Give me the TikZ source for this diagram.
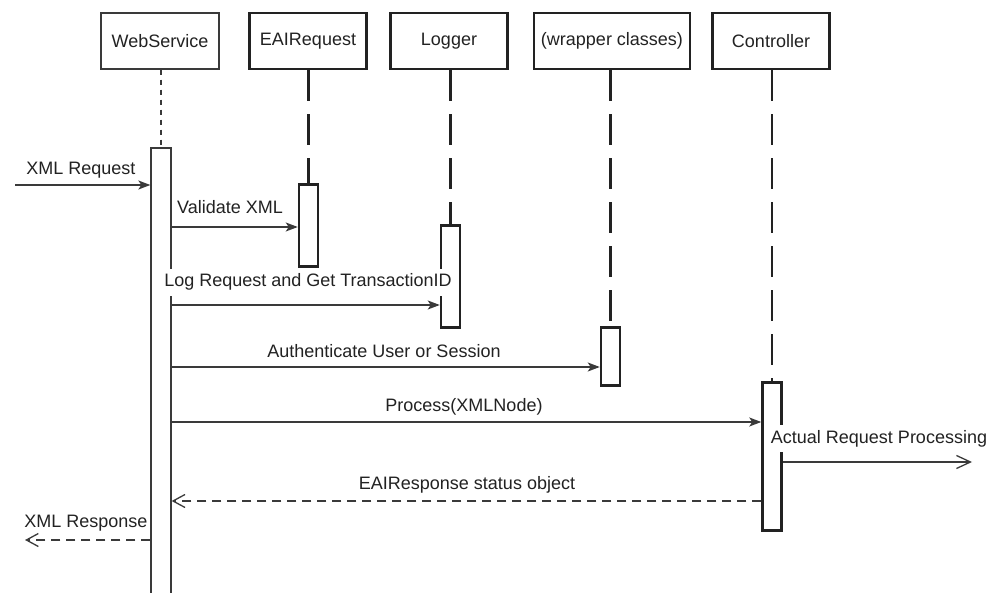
\documentclass[tikz,border=0pt]{standalone}
\usepackage{fontspec}
\setmainfont{Liberation Sans}
\usetikzlibrary{arrows.meta}
\definecolor{ink}{HTML}{222222}
\definecolor{thin}{HTML}{3A3A3A}
\begin{document}
\begin{tikzpicture}[x=1pt,y=-1pt,
  every node/.style={font=\fontsize{18}{21}\selectfont, text=ink},
  headthin/.style={draw=thin, line width=1.3pt, fill=white, minimum height=56pt, inner sep=0pt},
  headthick/.style={draw=ink, line width=2.5pt, fill=white, minimum height=56pt, inner sep=0pt},
  actthin/.style={draw=thin, line width=1.3pt, fill=white, minimum width=20pt, inner sep=0pt},
  actthick/.style={draw=ink, line width=2.5pt, fill=white, minimum width=19pt, inner sep=0pt},
  lifethin/.style={draw=thin, line width=1.2pt, dash pattern=on 5pt off 5pt},
  lifethick/.style={draw=ink, line width=2.5pt, dash pattern=on 31pt off 13pt},
  msg/.style={draw=thin, line width=1.3pt, -{Stealth[length=12pt,width=9pt,inset=3pt]}},
  ret/.style={draw=thin, line width=1.3pt, dash pattern=on 9pt off 6pt, -{Straight Barb[length=12pt,width=13pt]}},
  async/.style={draw=thin, line width=1.3pt, -{Straight Barb[length=14pt,width=13pt]}},
  lbl/.style={anchor=base, inner xsep=1pt, inner ysep=5pt, fill=white}
]
\useasboundingbox (0,0) rectangle (988,593);
\clip (0,0) rectangle (988,593);

% heads
\node[headthin, minimum width=118pt] (ws) at (160,41) {WebService};
\node[headthick, minimum width=117pt] (eai) at (308,41) {EAIRequest};
\node[headthick, minimum width=117pt] (log) at (449,41) {Logger};
\node[headthick, minimum width=156pt] (wrap) at (612,41) {(wrapper classes)};
\node[headthick, minimum width=117pt] (ctl) at (771,41) {Controller};

% activations
\node[actthin, minimum height=452pt] (wsact) at (161,374) {};
\node[actthick, minimum height=82pt] (eaiact) at (308.5,225.5) {};
\node[actthick, minimum height=102pt] (logact) at (450.5,276.5) {};
\node[actthick, minimum height=58pt] (wrapact) at (610.5,356.5) {};
\node[actthick, minimum height=148pt] (ctlact) at (772,456.5) {};

% lifelines
\draw[lifethin] (ws.south -| wsact.north) -- (wsact.north);
\draw[lifethick] (eai.south -| eaiact.north) -- (eaiact.north);
\draw[lifethick] (log.south -| logact.north) -- (logact.north);
\draw[lifethick] (wrap.south -| wrapact.north) -- (wrapact.north);
\draw[lifethick] (ctl.south -| ctlact.north) -- (ctlact.north);

% free ends
\coordinate (xin) at (15,185);
\coordinate (xout) at (25,540);
\coordinate (arpend) at (972,462);

% messages
\draw[msg] (xin) -- (wsact.west |- xin);
\node[lbl] (l1) at (81,175) {XML Request};

\draw[msg] (wsact.east |- 0,227) -- (eaiact.west |- 0,227);
\node[lbl] (l2) at (230,214) {Validate XML};

\draw[msg] (wsact.east |- 0,305) -- (logact.west |- 0,305);
\node[lbl] (l3) at (308,287) {Log Request and Get TransactionID};

\draw[msg] (wsact.east |- 0,367) -- (wrapact.west |- 0,367);
\node[lbl] (l4) at (384,358) {Authenticate User or Session};

\draw[msg] (wsact.east |- 0,422) -- (ctlact.west |- 0,422);
\node[lbl] (l5) at (464,411) {Process(XMLNode)};

\draw[async] (ctlact.east |- arpend) -- (arpend);
\node[lbl] (l6) at (879,443) {Actual Request Processing};

\draw[ret] (ctlact.west |- 0,501) -- (wsact.east |- 0,501);
\node[lbl] (l7) at (467,489) {EAIResponse status object};

\draw[ret] (wsact.west |- xout) -- (xout);
\node[lbl, fill=none] (l8) at (86,527) {XML Response};
\end{tikzpicture}
\end{document}
